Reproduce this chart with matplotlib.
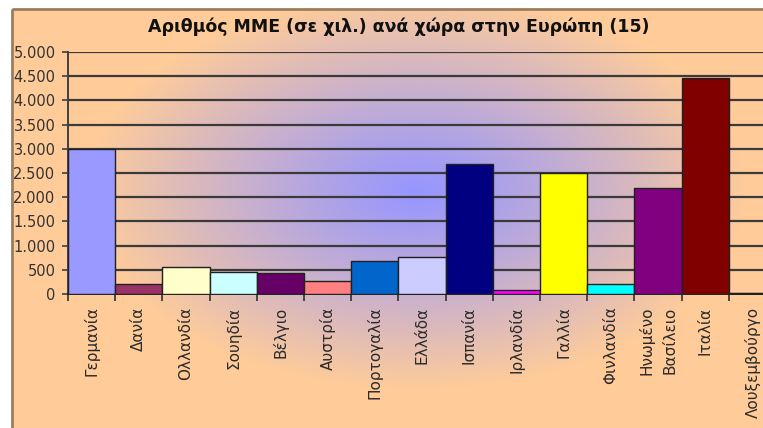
import numpy as np
import matplotlib.pyplot as plt
from matplotlib.patches import Rectangle
from matplotlib.ticker import FuncFormatter, MultipleLocator

plt.rcParams['font.family'] = ['DejaVu Sans']

countries = ["Γερμανία", "Δανία", "Ολλανδία", "Σουηδία", "Βέλγιο", "Αυστρία",
             "Πορτογαλία", "Ελλάδα", "Ισπανία", "Ιρλανδία", "Γαλλία", "Φινλανδία",
             "Ηνωμένο\nΒασίλειο", "Ιταλία", "Λουξεμβούργο"]
values = [3000, 205, 560, 460, 430, 275, 690, 760, 2690, 85, 2500, 205, 2200, 4470, 15]
bar_colors = ["#9999FF", "#993366", "#FFFFCC", "#CCFFFF", "#660066", "#FF8080",
              "#0066CC", "#CCCCFF", "#000080", "#FF00FF", "#FFFF00", "#00FFFF",
              "#800080", "#800000", "#FFFFFF"]
title = "Αριθμός ΜΜΕ (σε χιλ.) ανά χώρα στην Ευρώπη (15)"

W, H = 763, 428
fig = plt.figure(figsize=(W / 100, H / 100), dpi=100)
fig.patch.set_facecolor("white")

# background: peach with a blue glow in the middle (Excel "from center" fill)
bg = fig.add_axes([0, 0, 1, 1], zorder=-2)
bg.set_xlim(0, W)
bg.set_ylim(H, 0)
bg.axis("off")
xx, yy = np.meshgrid(np.arange(W), np.arange(H))
d = np.sqrt(((xx - 390) / 320.0) ** 2 + ((yy - 170) / 185.0) ** 2)
t = np.clip(d, 0, 1) ** 1.1
peach = np.array([255, 204, 153]) / 255.0
blue = np.array([150, 150, 255]) / 255.0
img = blue[None, None, :] * (1 - t[..., None]) + peach[None, None, :] * t[..., None]
bg.imshow(img, extent=[12, W + 40, H + 40, 9], aspect="auto", zorder=0)
bg.add_patch(Rectangle((12, 9), W + 40, H + 40, fill=False, edgecolor="#9C7E5E", lw=2, zorder=1))
bg.text(399, 27, title, ha="center", va="center", fontsize=12.5, fontweight="bold", color="#111111")

# plot area (runs past the right edge, like the original screenshot)
left, right, top, bottom = 68, 776, 52, 294
ax = fig.add_axes([left / W, (H - bottom) / H, (right - left) / W, (bottom - top) / H])
ax.set_facecolor("none")

x = np.arange(len(countries))
ax.bar(x, values, width=1.0, color=bar_colors, edgecolor="#202020", linewidth=1.0, zorder=3)

ax.set_xlim(-0.5, len(countries) - 0.5)
ax.set_ylim(0, 5000)
ax.yaxis.set_major_locator(MultipleLocator(500))
ax.yaxis.set_major_formatter(FuncFormatter(lambda v, p: f"{int(v):,}".replace(",", ".")))
ax.grid(axis="y", color="#3A3A3A", linewidth=1.6, zorder=1)
ax.get_ygridlines()[-1].set_color("#B89878")

ax.set_xticks(x)
ax.set_xticklabels(countries, rotation=90, ha="center", va="top", fontsize=11, color="#2A2A2A",
                   linespacing=1.6)
ax.set_xticks(np.arange(len(countries) + 1) - 0.5, minor=True)
ax.tick_params(axis="x", which="major", length=0, pad=9)
ax.tick_params(axis="x", which="minor", length=5, width=1.2, color="#303030")
ax.tick_params(axis="y", length=4, width=1.2, color="#404040", labelsize=10.5, labelcolor="#333333", pad=5)

for s in ["top", "right"]:
    ax.spines[s].set_visible(False)
ax.spines["left"].set_color("#404040")
ax.spines["left"].set_linewidth(1.4)
ax.spines["bottom"].set_color("#202020")
ax.spines["bottom"].set_linewidth(1.4)

fig.savefig("out.png", dpi=100)
